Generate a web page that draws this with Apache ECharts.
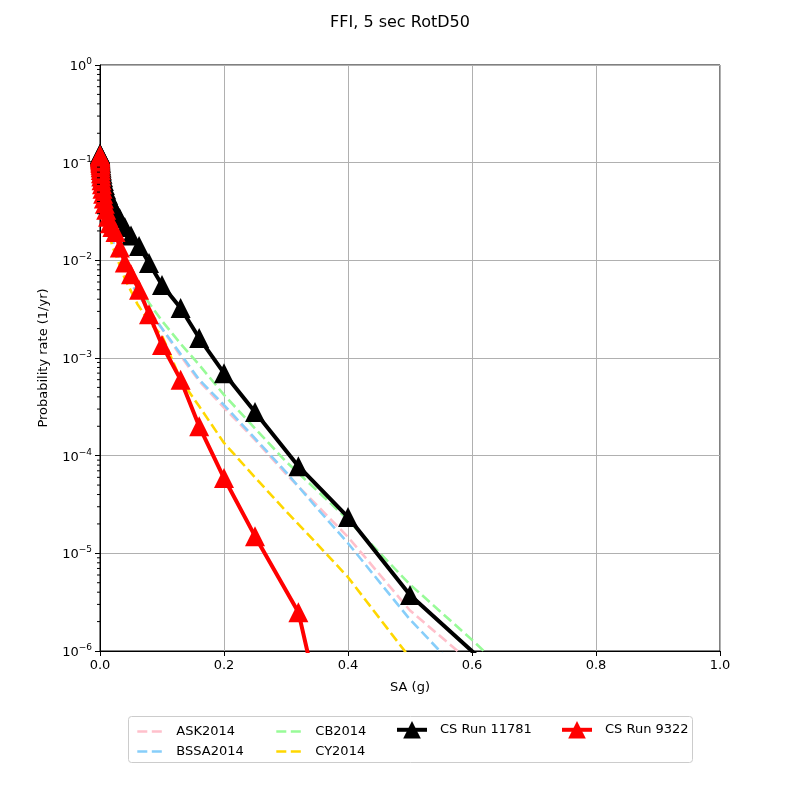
<!DOCTYPE html>
<html>
<head>
<meta charset="utf-8">
<script src="https://cdn.jsdelivr.net/npm/echarts@6/dist/echarts.min.js"></script>
<style>
  html, body { margin: 0; padding: 0; background: #fff; }
  #chart { width: 800px; height: 800px; }
</style>
</head>
<body>
<div id="chart"></div>
<script>
// CyberShake hazard curves (IM levels in g, rates in 1/yr)
const csLevels = [0.0001, 0.00013, 0.00016, 0.0002, 0.00025, 0.00032, 0.0004, 0.0005, 0.00063, 0.00079,
  0.001, 0.0013, 0.0016, 0.002, 0.0025, 0.0032, 0.004, 0.005, 0.0063, 0.0079,
  0.01, 0.013, 0.016, 0.02, 0.025, 0.032, 0.04, 0.05, 0.063, 0.079,
  0.1, 0.13, 0.16, 0.2, 0.25, 0.32, 0.4, 0.5, 0.63];
const run11781 = [0.124, 0.123, 0.122, 0.121, 0.12, 0.119, 0.117, 0.115, 0.113, 0.11,
  0.107, 0.103, 0.099, 0.094, 0.089, 0.083, 0.077, 0.071, 0.065, 0.059,
  0.053, 0.047, 0.042, 0.037, 0.032, 0.027, 0.022, 0.018, 0.014, 0.0094,
  0.0056, 0.00325, 0.0016, 0.0007, 0.00028, 0.000078, 0.0000235, 0.00000374, 0.00000067];
const run9322 = [0.12, 0.118, 0.116, 0.114, 0.112, 0.109, 0.106, 0.103, 0.099, 0.095,
  0.09, 0.084, 0.078, 0.072, 0.066, 0.06, 0.054, 0.048, 0.043, 0.038,
  0.033, 0.028, 0.024, 0.022, 0.0195, 0.0135, 0.0095, 0.0072, 0.005, 0.0028,
  0.00136, 0.0006, 0.0002, 0.000059, 0.000015, 0.0000025, 0.000000015, null, null];

// GMPE curves
const gmpeLevels = [0.001, 0.01, 0.02, 0.04, 0.06, 0.08, 0.1, 0.13, 0.16, 0.2, 0.25, 0.3, 0.35, 0.4, 0.5, 0.6, 0.7];
const ask2014 = [0.1, 0.03, 0.016, 0.0075, 0.0046, 0.003, 0.002, 0.00105, 0.00058, 0.00031, 0.000145, 0.000065, 0.000031, 0.0000147, 0.0000026, 0.00000075, 0.0000002];
const bssa2014 = [0.1, 0.03, 0.016, 0.0075, 0.0046, 0.003, 0.002, 0.0011, 0.0006, 0.00033, 0.00015, 0.000068, 0.000029, 0.0000127, 0.0000021, 0.00000045, 0.0000001];
const cb2014 = [0.1, 0.04, 0.022, 0.0095, 0.0055, 0.0036, 0.0024, 0.0014, 0.00085, 0.00042, 0.00019, 0.000087, 0.000044, 0.000022, 0.0000048, 0.0000013, 0.00000033];
const cy2014 = [0.1, 0.024, 0.014, 0.0065, 0.0036, 0.0023, 0.0017, 0.0006, 0.00032, 0.000135, 0.00006, 0.000027, 0.0000125, 0.0000057, 0.00000085, 0.00000013, 0.00000002];

const minorMantissas = [2, 3, 4, 5, 6, 7, 8, 9];
const minorExps = [-6, -5, -4, -3, -2, -1];

function pairs(xs, ys) {
  return xs.map((x, i) => [x, ys[i]]).filter(p => p[1] != null);
}

const minorTickData = [];
minorExps.forEach(e => minorMantissas.forEach(m => minorTickData.push([0, m * Math.pow(10, e)])));

const FONT = 'DejaVu Sans';

const chart = echarts.init(document.getElementById('chart'));

function dashed(name, color, ys) {
  return {
    name: name, type: 'line', data: pairs(gmpeLevels, ys), symbol: 'none',
    lineStyle: { color: color, width: 2.6, type: [10, 4.5] }, itemStyle: { color: color },
    clip: true, z: 2, animation: false
  };
}

function csRun(name, color, ys, z) {
  return {
    name: name, type: 'line', data: pairs(csLevels, ys), symbol: 'triangle', symbolSize: 20,
    showAllSymbol: true,
    lineStyle: { color: color, width: 4 }, itemStyle: { color: color },
    clip: true, z: z, animation: false
  };
}

const legendText = { fontFamily: FONT, fontSize: 13, color: '#000', padding: [0, 0, 0, 8] };

function dashLegend(left, names) {
  return {
    orient: 'vertical', left: left, top: 720, itemWidth: 26, itemHeight: 14, itemGap: 7,
    textStyle: legendText, lineStyle: { width: 2.6 },
    data: names.map(n => ({ name: n, itemStyle: { opacity: 0 } }))
  };
}

function runLegend(left, name) {
  return {
    orient: 'vertical', left: left, top: 716, itemWidth: 30, itemHeight: 22,
    textStyle: legendText, lineStyle: { width: 4 },
    data: [name]
  };
}

chart.setOption({
  animation: false,
  backgroundColor: '#fff',
  title: {
    text: 'FFI, 5 sec RotD50', left: 'center', top: 10,
    textStyle: { fontFamily: FONT, fontSize: 16, fontWeight: 'normal', color: '#000' }
  },
  grid: { left: 100, right: 80, top: 65, bottom: 149, show: true, borderColor: '#000', borderWidth: 1, backgroundColor: 'transparent' },
  legend: [
    dashLegend(131, ['ASK2014', 'BSSA2014']),
    dashLegend(270, ['CB2014', 'CY2014']),
    runLegend(390, 'CS Run 11781'),
    runLegend(555, 'CS Run 9322')
  ],
  graphic: [{
    type: 'rect', left: 128, top: 716, z: -1,
    shape: { width: 564, height: 46, r: 3 },
    style: { fill: '#fff', stroke: '#cccccc', lineWidth: 1 }
  }],
  xAxis: {
    type: 'value', min: 0, max: 1, interval: 0.2,
    name: 'SA (g)', nameLocation: 'middle', nameGap: 30,
    nameTextStyle: { fontFamily: FONT, fontSize: 13, color: '#000' },
    axisLine: { lineStyle: { color: '#000' } },
    axisTick: { show: true, length: 5, lineStyle: { color: '#000' } },
    axisLabel: { fontFamily: FONT, fontSize: 13, color: '#000', margin: 8, formatter: v => v.toFixed(1) },
    splitLine: { show: true, lineStyle: { color: '#b0b0b0', width: 1 } }
  },
  yAxis: {
    type: 'log', logBase: 10, min: 1e-6, max: 1, interval: 1,
    name: 'Probability rate (1/yr)', nameLocation: 'middle', nameGap: 50, nameRotate: 90,
    nameTextStyle: { fontFamily: FONT, fontSize: 13, color: '#000' },
    axisLine: { show: true, lineStyle: { color: '#000' } },
    axisTick: { show: true, length: 5, lineStyle: { color: '#000' } },
    axisLabel: {
      fontFamily: FONT, color: '#000', margin: 8,
      formatter: v => {
        const e = Math.round(Math.log10(v));
        return '{b|10}{s|' + (e < 0 ? '\u2212' + (-e) : e) + '}';
      },
      rich: {
        b: { fontFamily: FONT, fontSize: 13, color: '#000', lineHeight: 16, verticalAlign: 'bottom' },
        s: { fontFamily: FONT, fontSize: 9, color: '#000', lineHeight: 16, verticalAlign: 'top' }
      }
    },
    splitLine: { show: true, lineStyle: { color: '#b0b0b0', width: 1 } }
  },
  series: [
    dashed('ASK2014', '#ffc0cb', ask2014),
    dashed('BSSA2014', '#87cefa', bssa2014),
    dashed('CB2014', '#98fb98', cb2014),
    dashed('CY2014', '#ffd700', cy2014),
    csRun('CS Run 11781', '#000000', run11781, 3),
    csRun('CS Run 9322', '#ff0000', run9322, 4),
    {
      name: 'minorTicks', type: 'custom', data: minorTickData, silent: true, z: 5,
      renderItem: (params, api) => {
        const p = api.coord([api.value(0), api.value(1)]);
        return {
          type: 'line',
          shape: { x1: p[0] - 3, y1: p[1], x2: p[0], y2: p[1] },
          style: { stroke: '#000', lineWidth: 1 }
        };
      }
    }
  ]
});
</script>
</body>
</html>
